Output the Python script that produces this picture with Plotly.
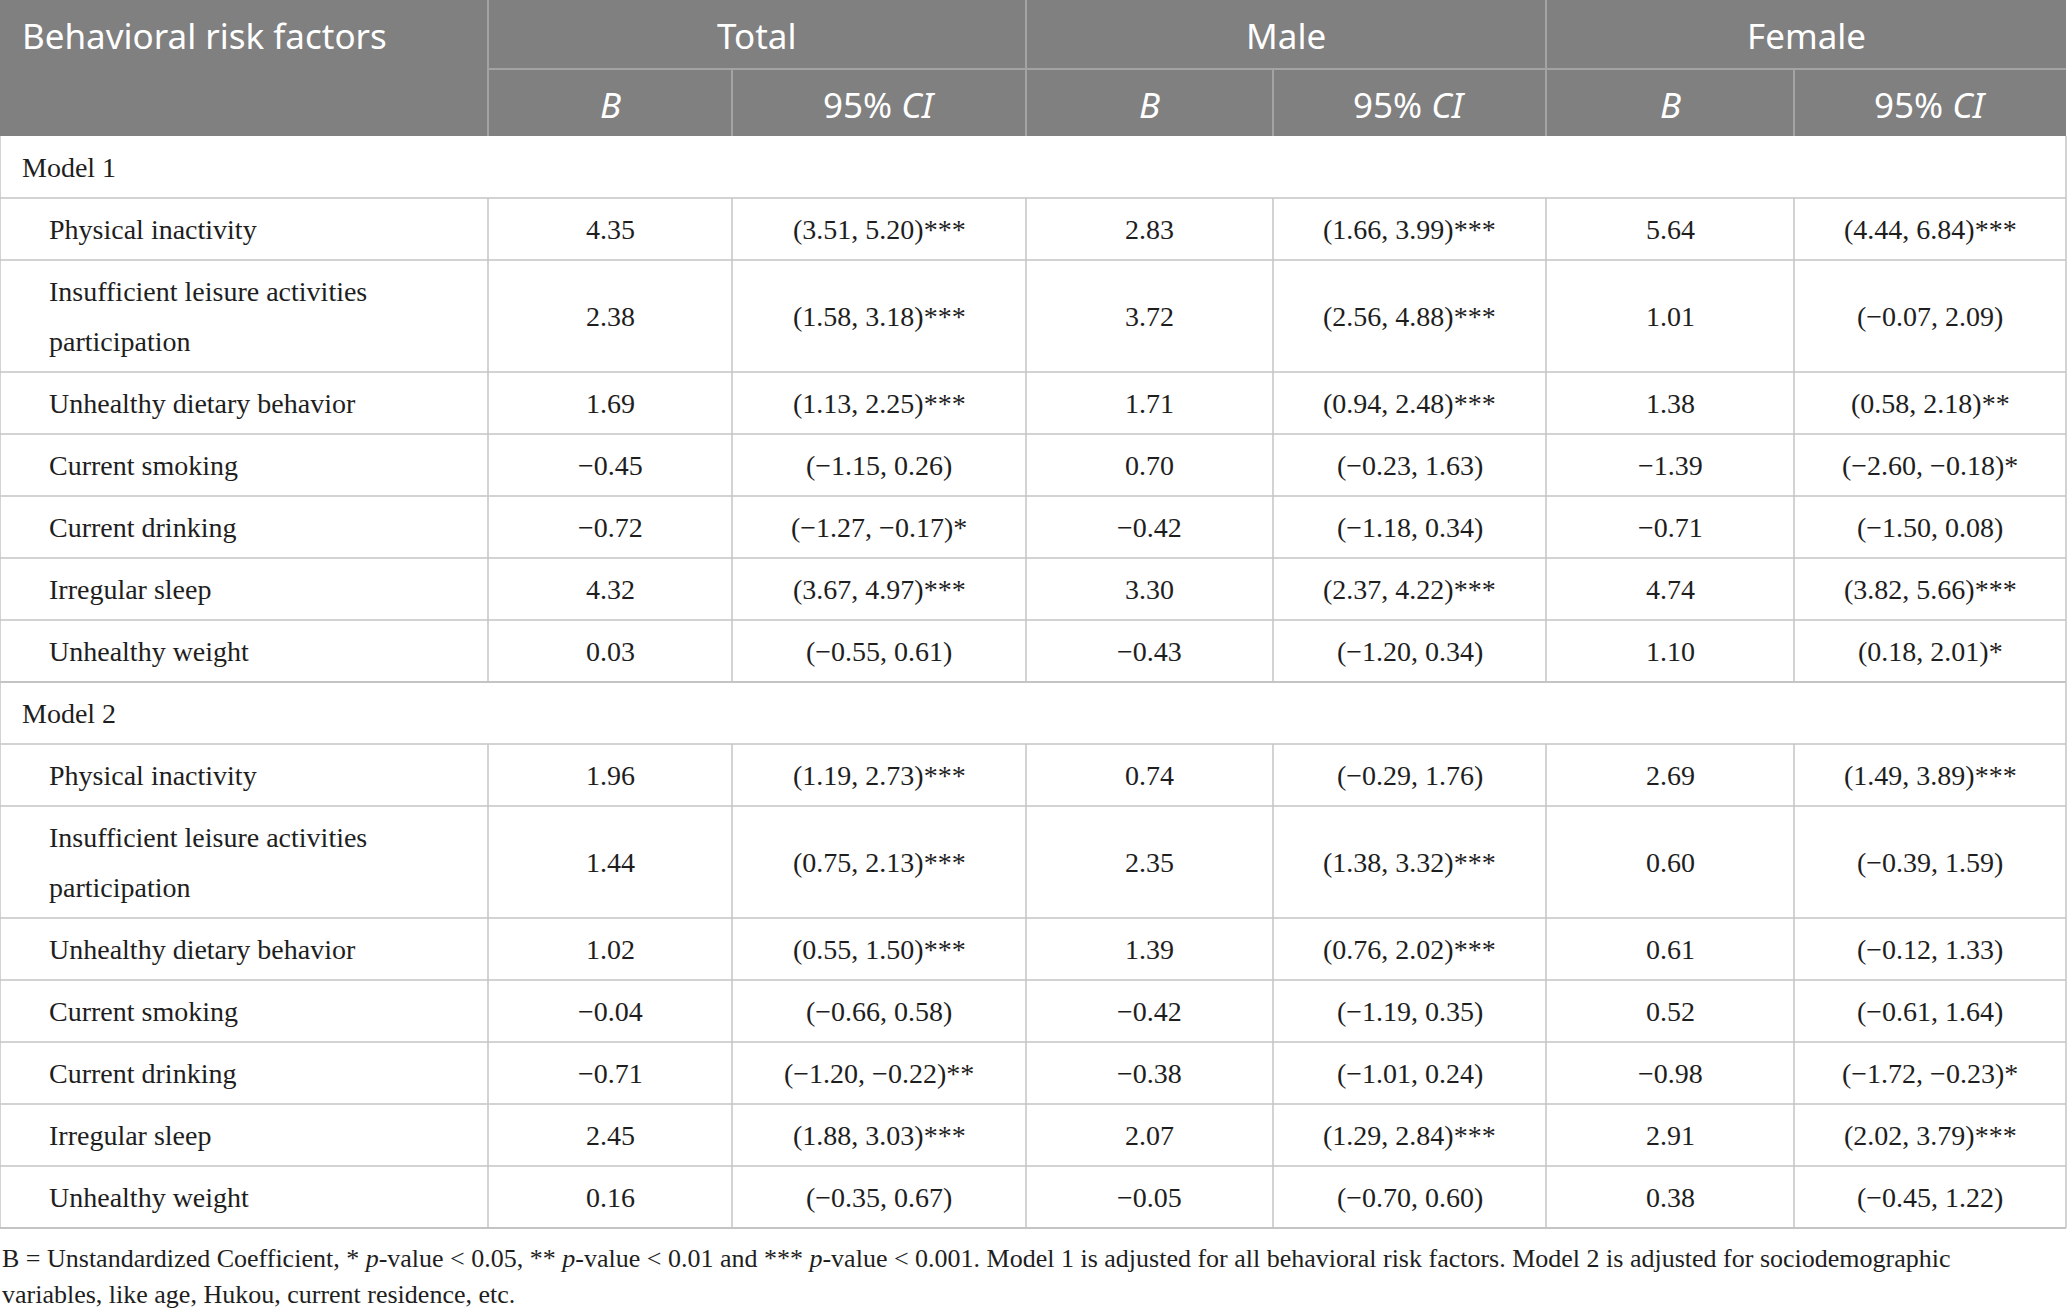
import plotly.graph_objects as go

# Table content
factors = [
    "Physical inactivity",
    "Insufficient leisure activities\nparticipation",
    "Unhealthy dietary behavior",
    "Current smoking",
    "Current drinking",
    "Irregular sleep",
    "Unhealthy weight",
]
models = ["Model 1", "Model 2"]
groups = ["Total", "Male", "Female"]

# Model 1
m1_total_b = [4.35, 2.38, 1.69, -0.45, -0.72, 4.32, 0.03]
m1_total_lo = [3.51, 1.58, 1.13, -1.15, -1.27, 3.67, -0.55]
m1_total_hi = [5.20, 3.18, 2.25, 0.26, -0.17, 4.97, 0.61]
m1_total_sig = ["***", "***", "***", "", "*", "***", ""]

m1_male_b = [2.83, 3.72, 1.71, 0.70, -0.42, 3.30, -0.43]
m1_male_lo = [1.66, 2.56, 0.94, -0.23, -1.18, 2.37, -1.20]
m1_male_hi = [3.99, 4.88, 2.48, 1.63, 0.34, 4.22, 0.34]
m1_male_sig = ["***", "***", "***", "", "", "***", ""]

m1_female_b = [5.64, 1.01, 1.38, -1.39, -0.71, 4.74, 1.10]
m1_female_lo = [4.44, -0.07, 0.58, -2.60, -1.50, 3.82, 0.18]
m1_female_hi = [6.84, 2.09, 2.18, -0.18, 0.08, 5.66, 2.01]
m1_female_sig = ["***", "", "**", "*", "", "***", "*"]

# Model 2
m2_total_b = [1.96, 1.44, 1.02, -0.04, -0.71, 2.45, 0.16]
m2_total_lo = [1.19, 0.75, 0.55, -0.66, -1.20, 1.88, -0.35]
m2_total_hi = [2.73, 2.13, 1.50, 0.58, -0.22, 3.03, 0.67]
m2_total_sig = ["***", "***", "***", "", "**", "***", ""]

m2_male_b = [0.74, 2.35, 1.39, -0.42, -0.38, 2.07, -0.05]
m2_male_lo = [-0.29, 1.38, 0.76, -1.19, -1.01, 1.29, -0.70]
m2_male_hi = [1.76, 3.32, 2.02, 0.35, 0.24, 2.84, 0.60]
m2_male_sig = ["", "***", "***", "", "", "***", ""]

m2_female_b = [2.69, 0.60, 0.61, 0.52, -0.98, 2.91, 0.38]
m2_female_lo = [1.49, -0.39, -0.12, -0.61, -1.72, 2.02, -0.45]
m2_female_hi = [3.89, 1.59, 1.33, 1.64, -0.23, 3.79, 1.22]
m2_female_sig = ["***", "", "", "", "*", "***", ""]

footnote = [
    "B = Unstandardized Coefficient, * <i>p</i>-value &lt; 0.05, ** <i>p</i>-value &lt; 0.01 and *** "
    "<i>p</i>-value &lt; 0.001. Model 1 is adjusted for all behavioral risk factors. Model 2 is adjusted for sociodemographic",
    "variables, like age, Hukou, current residence, etc.",
]

model_data = [
    [(m1_total_b, m1_total_lo, m1_total_hi, m1_total_sig),
     (m1_male_b, m1_male_lo, m1_male_hi, m1_male_sig),
     (m1_female_b, m1_female_lo, m1_female_hi, m1_female_sig)],
    [(m2_total_b, m2_total_lo, m2_total_hi, m2_total_sig),
     (m2_male_b, m2_male_lo, m2_male_hi, m2_male_sig),
     (m2_female_b, m2_female_lo, m2_female_hi, m2_female_sig)],
]

# Layout (pixels)
W, H = 2068, 1310
col_edges = [0, 488, 732, 1026, 1273, 1546, 1794, 2066]
head_mid, head_bot = 69, 136
row_h, row_h2 = 62, 112
line_gap = 50

HEAD_BG = "#7f807f"
HEAD_LINE = "#a3a3a3"
GRID = "#c4c4c4"
TXT = "#1e1e1e"
head_font = dict(family="Noto Sans, Open Sans, sans-serif", size=35, color="white")
body_font = dict(family="Liberation Serif, DejaVu Serif, serif", size=28, color=TXT)
foot_font = dict(family="Liberation Serif, DejaVu Serif, serif", size=26, color=TXT)


def fmt(v):
    return f"{v:.2f}".replace("-", "\u2212")


shapes = []
annots = []


def line(x0, y0, x1, y1, color=GRID, width=1.5):
    shapes.append(dict(type="line", xref="x", yref="y", x0=x0, y0=y0, x1=x1, y1=y1,
                       line=dict(color=color, width=width)))


def text(x, y, s, font, xanchor="center"):
    annots.append(dict(x=x, y=y, xref="x", yref="y", text=s, showarrow=False,
                       xanchor=xanchor, yanchor="middle", font=font))


# header
shapes.append(dict(type="rect", xref="x", yref="y", x0=0, y0=0, x1=col_edges[-1], y1=head_bot,
                   fillcolor=HEAD_BG, line=dict(width=0), layer="below"))
line(col_edges[1], head_mid, col_edges[-1], head_mid, HEAD_LINE, 2)
for i, x in enumerate(col_edges[1:-1], start=1):
    y0 = 0 if i % 2 == 1 else head_mid
    line(x, y0, x, head_bot, HEAD_LINE, 2)
text(20, 35, "Behavioral risk factors", head_font, "left")
for g, name in enumerate(groups):
    cx = (col_edges[1 + 2 * g] + col_edges[3 + 2 * g]) / 2
    text(cx, 35, name, head_font)
    text((col_edges[1 + 2 * g] + col_edges[2 + 2 * g]) / 2, 104, "<i>B</i>", head_font)
    text((col_edges[2 + 2 * g] + col_edges[3 + 2 * g]) / 2, 104, "95% <i>CI</i>", head_font)

# body
y = head_bot
for m, model in enumerate(models):
    text(20, y + row_h / 2, model, body_font, "left")
    line(0, y, 0, y + row_h)
    line(col_edges[-1], y, col_edges[-1], y + row_h)
    y += row_h
    line(0, y, col_edges[-1], y)
    for r, fac in enumerate(factors):
        parts = fac.split("\n")
        h = row_h if len(parts) == 1 else row_h2
        cy = y + h / 2
        for k, p in enumerate(parts):
            text(47, cy + (k - (len(parts) - 1) / 2) * line_gap, p, body_font, "left")
        for g, (b, lo, hi, sig) in enumerate(model_data[m]):
            text((col_edges[1 + 2 * g] + col_edges[2 + 2 * g]) / 2, cy, fmt(b[r]), body_font)
            text((col_edges[2 + 2 * g] + col_edges[3 + 2 * g]) / 2, cy,
                 f"({fmt(lo[r])}, {fmt(hi[r])}){sig[r]}", body_font)
        for x in col_edges:
            line(x, y, x, y + h)
        y += h
        line(0, y, col_edges[-1], y, GRID, 2 if r == len(factors) - 1 else 1.5)

# footnote
text(0, 1258, footnote[0], foot_font, "left")
text(0, 1294, footnote[1], foot_font, "left")

fig = go.Figure()
fig.update_layout(
    width=W, height=H,
    margin=dict(l=0, r=0, t=0, b=0),
    paper_bgcolor="white", plot_bgcolor="white",
    xaxis=dict(range=[0, W], visible=False, fixedrange=True),
    yaxis=dict(range=[H, 0], visible=False, fixedrange=True),
    shapes=shapes, annotations=annots, showlegend=False,
)

fig.write_html("out.html", config={"displayModeBar": False},
               post_script="document.body.style.margin='0';document.body.style.overflow='hidden';")
